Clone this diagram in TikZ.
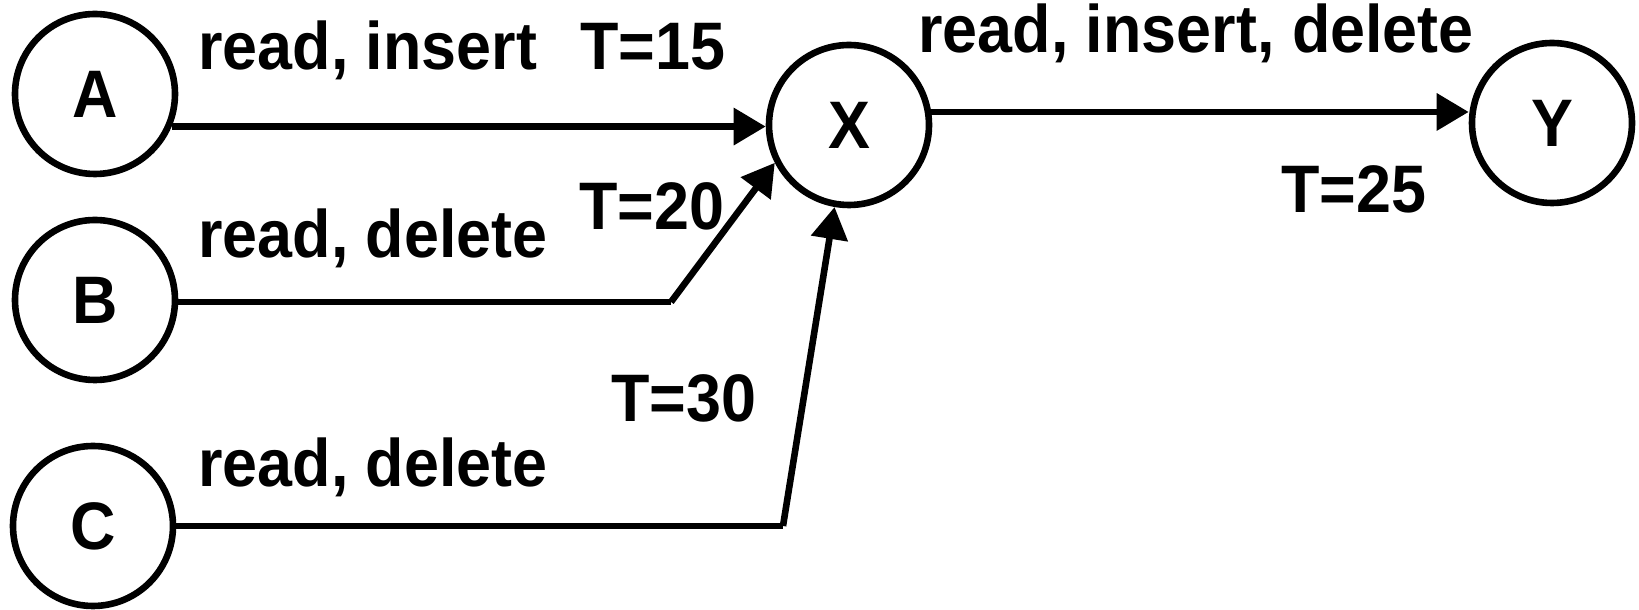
\documentclass[tikz,border=0pt]{standalone}
\usepackage{fontspec}
\setmainfont{Liberation Sans}[FakeStretch=0.935]
\usepackage{tikz}
\usetikzlibrary{arrows.meta, positioning, calc}
\tikzset{
  vnode/.style={draw, circle, line width=3.3pt, minimum size=80pt, inner sep=0pt,
                font=\fontsize{33.6}{38}\selectfont\bfseries},
  lbl/.style={anchor=base west, inner sep=0pt, font=\fontsize{33.6}{38}\selectfont\bfseries},
  arr/.style={-{Triangle[length=16pt, width=18pt]}, line width=3.3pt},
  seg/.style={line width=3.3pt},
}
\begin{document}
\begin{tikzpicture}[x=0.5pt, y=0.5pt]
  \useasboundingbox (0,0) rectangle (1639,610);
  \node[vnode] (A) at (95,516) {A};
  \node[vnode] (B) at (95,310) {B};
  \node[vnode] (C) at (93,84) {C};
  \node[vnode] (X) at (849,485) {X};
  \node[vnode] (Y) at (1552,487) {Y};
  \coordinate (bendB) at (671,308);
  \coordinate (bendC) at (783,84);
  \draw[arr] (A.-23) -- (A.-23 -| X.west);
  \draw[seg] (B.east |- bendB) -- (bendB);
  \draw[arr] (bendB) -- (X.207);
  \draw[seg] (C.east) -- (bendC);
  \draw[arr] (bendC) -- (X.260);
  \draw[arr] (X.9) -- (X.9 -| Y.west);
  \node[lbl] (lblA) at (198,540) {read, insert};
  \node[lbl] (tA) at (580,540) {T=15};
  \node[lbl] (lblB) at (198,352) {read, delete};
  \node[lbl] (tB) at (579,380) {T=20};
  \node[lbl] (lblC) at (198,123) {read, delete};
  \node[lbl] (tC) at (611,188) {T=30};
  \node[lbl] (lblX) at (918,557) {read, insert, delete};
  \node[lbl] (tX) at (1281,397) {T=25};
\end{tikzpicture}
\end{document}
